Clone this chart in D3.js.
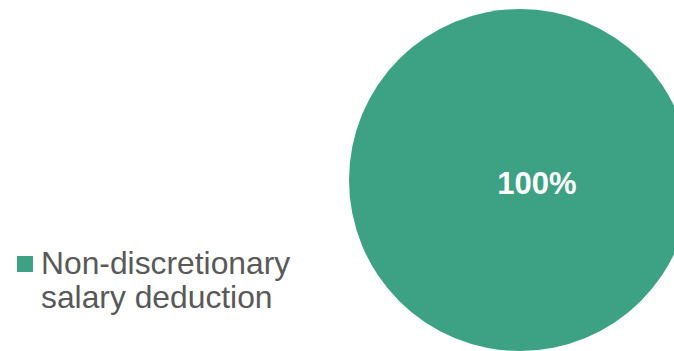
<!DOCTYPE html>
<html>
<head>
<meta charset="utf-8">
<script src="https://cdn.jsdelivr.net/npm/d3@7"></script>
<style>
  body { margin: 0; background: #fff; }
  svg { display: block; font-family: "Liberation Sans", Arial, sans-serif; }
</style>
</head>
<body>
<div id="chart"></div>
<script>
var categories = ["Non-discretionary salary deduction"];
var values = [100];
var legendLines = [["Non-discretionary", "salary deduction"]];
var colors = ["#3DA184"];

var width = 674, height = 351;
var cx = 520, cy = 180, radius = 171;

var svg = d3.select("#chart").append("svg")
    .attr("width", width)
    .attr("height", height);

var pie = d3.pie().sort(null).value(function(d) { return d; });
var arc = d3.arc().innerRadius(0).outerRadius(radius);
var color = d3.scaleOrdinal().domain(categories).range(colors);
var total = d3.sum(values);

var g = svg.append("g")
    .attr("transform", "translate(" + cx + "," + cy + ")");

var slices = g.selectAll("g.slice")
    .data(pie(values))
    .enter().append("g")
    .attr("class", "slice");

slices.append("path")
    .attr("d", arc)
    .attr("fill", function(d, i) { return color(categories[i]); });

//data label (single full slice, excel puts it a bit right of centre)
slices.append("text")
    .attr("x", 17)
    .attr("y", 14)
    .attr("text-anchor", "middle")
    .attr("fill", "#fff")
    .style("font-weight", "bold")
    .style("font-size", "31px")
    .text(function(d) { return Math.round(d.value / total * 100) + "%"; });

//legend
var legend = svg.selectAll("g.legend")
    .data(categories)
    .enter().append("g")
    .attr("class", "legend")
    .attr("transform", "translate(17,256)");

legend.append("rect")
    .attr("width", 16)
    .attr("height", 16)
    .attr("fill", function(d) { return color(d); });

legend.append("text")
    .attr("x", 24)
    .attr("y", 18)
    .attr("fill", "#595959")
    .style("font-size", "31.8px")
    .selectAll("tspan")
    .data(function(d, i) { return legendLines[i]; })
    .enter().append("tspan")
    .attr("x", 24)
    .attr("dy", function(d, i) { return i ? 34 : 0; })
    .text(function(d) { return d; });
</script>
</body>
</html>
